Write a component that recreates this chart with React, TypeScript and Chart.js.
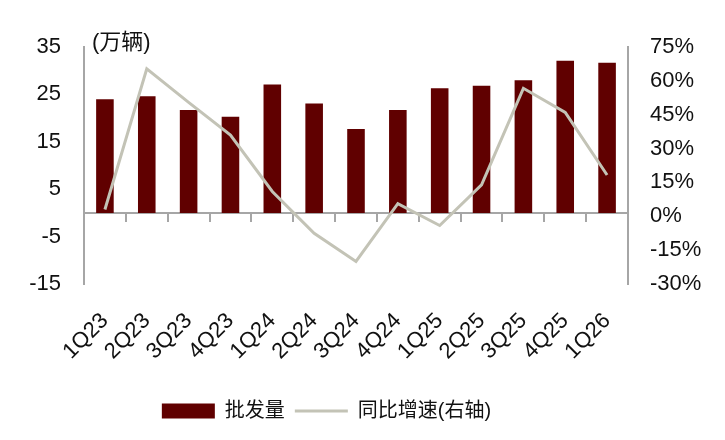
import React, { useEffect, useRef } from "react";
import { Chart, registerables } from "chart.js";

Chart.register(...registerables);

const quarters = ["1Q23", "2Q23", "3Q23", "4Q23", "1Q24", "2Q24", "3Q24", "4Q24", "1Q25", "2Q25", "3Q25", "4Q25", "1Q26"];
const volume = [24.0, 24.6, 21.7, 20.3, 27.1, 23.1, 17.7, 21.7, 26.3, 26.8, 28.0, 32.1, 31.7];
const growth = [3.0, 65.3, 50.5, 36.0, 11.0, -7.5, -20.0, 5.6, -4.1, 13.9, 56.7, 46.0, 18.3];

const FONT = '"Liberation Sans", Arial, "Noto Sans CJK SC", sans-serif';
const AXIS = "#a6a6a6";

const unitLabel = {
  id: "unitLabel",
  afterLayout(chart: Chart) {
    // legend sits a bit left of centre in the original
    const lg: any = (chart as any).legend;
    if (lg) {
      lg.left -= 36;
      lg.right -= 36;
    }
  },
  afterDraw(chart: Chart) {
    const { ctx, chartArea } = chart;
    ctx.save();
    ctx.font = `22px ${FONT}`;
    ctx.fillStyle = "#111";
    ctx.textBaseline = "middle";
    ctx.fillText("(万辆)", chartArea.left + 8, chartArea.top - 4);
    ctx.restore();
  },
};

const App = () => {
  const chartRef = useRef<HTMLCanvasElement | null>(null);

  useEffect(() => {
    if (!chartRef.current) return;

    const myChart = new Chart(chartRef.current, {
      type: "bar",
      data: {
        labels: quarters,
        datasets: [
          {
            type: "bar",
            label: "批发量",
            data: volume,
            backgroundColor: "#600000",
            xAxisID: "x",
            yAxisID: "y",
            categoryPercentage: 1,
            barPercentage: 0.42,
            order: 1,
          },
          {
            type: "line",
            label: "同比增速(右轴)",
            data: growth,
            borderColor: "#c3c3b6",
            backgroundColor: "#c3c3b6",
            borderWidth: 3,
            pointRadius: 0,
            tension: 0,
            xAxisID: "x",
            yAxisID: "y2",
            order: 0,
          } as any,
        ],
      },
      options: {
        responsive: true,
        maintainAspectRatio: false,
        animation: false,
        layout: { padding: { top: 47, bottom: 9, left: 0, right: 0 } },
        plugins: {
          tooltip: { enabled: false },
          legend: {
            position: "bottom",
            labels: {
              usePointStyle: true,
              pointStyleWidth: 53,
              boxHeight: 15,
              padding: 10,
              color: "#111",
              font: { size: 20, family: FONT },
              sort: (a, b) => (a.datasetIndex ?? 0) - (b.datasetIndex ?? 0),
              generateLabels: (chart) =>
                Chart.defaults.plugins.legend.labels.generateLabels(chart).map((item) => ({
                  ...item,
                  pointStyle: item.datasetIndex === 0 ? "rect" : "line",
                  lineWidth: item.datasetIndex === 0 ? 0 : 3,
                })),
            },
          },
        },
        scales: {
          x: {
            position: "bottom",
            grid: { display: false },
            border: { display: false },
            ticks: {
              minRotation: 45,
              maxRotation: 45,
              padding: 16,
              color: "#111",
              font: { size: 22, family: FONT },
            },
            afterFit: (scale) => {
              scale.height = 107;
            },
          },
          x2: {
            type: "category",
            labels: quarters,
            offset: true,
            position: { y: 0 } as any,
            grid: { offset: true, drawOnChartArea: false, drawTicks: true, tickLength: 8, color: AXIS, lineWidth: 2 },
            border: { color: AXIS, width: 2 },
            ticks: { display: false },
          },
          y: {
            position: "left",
            min: -15,
            max: 35,
            grid: { display: false },
            border: { color: AXIS, width: 2 },
            ticks: {
              stepSize: 10,
              padding: 15,
              color: "#111",
              font: { size: 22, family: FONT },
            },
            afterFit: (scale) => {
              scale.width = 84;
            },
          },
          y2: {
            position: "right",
            min: -30,
            max: 75,
            grid: { display: false },
            border: { color: AXIS, width: 2 },
            ticks: {
              stepSize: 15,
              padding: 14,
              color: "#111",
              font: { size: 22, family: FONT },
              callback: (v) => `${v}%`,
            },
            afterFit: (scale) => {
              scale.width = 97;
            },
          },
        },
      },
      plugins: [unitLabel],
    });

    return () => {
      myChart.destroy();
    };
  }, []);

  return (
    <div style={{ position: "fixed", left: 0, top: 0, width: 725, height: 440, background: "#fff" }}>
      <canvas ref={chartRef}></canvas>
    </div>
  );
};

export default App;
